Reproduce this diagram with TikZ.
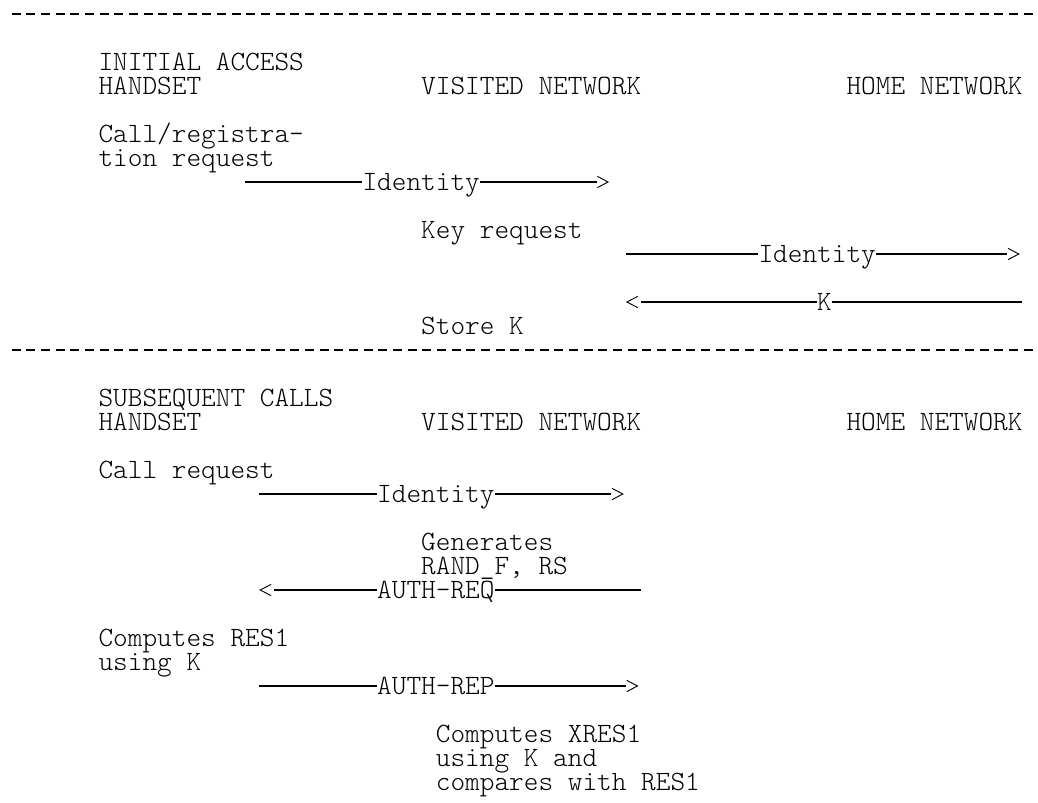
\documentclass[tikz,border=0pt]{standalone}
\usepackage{fontspec}
\setmonofont{lmmonolt10-regular.otf}

\begin{document}
\begin{tikzpicture}[x=11pt,y=-18pt,line width=0.8pt]
                \tikzstyle{txt}=[anchor=base west,inner sep=0pt,font=\ttfamily\fontsize{20.95pt}{18pt}\selectfont]
                \tikzstyle{rule}=[line width=0.9pt,dash pattern=on 6.75pt off 4.25pt]
                \tikzstyle{chev}=[line width=0.7pt]
                \useasboundingbox (-0.682,-0.583) rectangle (70.09,32.875);

                % initial access
                \draw[rule] (0.12,0) -- (70.09,0);
                \node[txt] (title1) at (6,2.34) {INITIAL ACCESS};
                \node[txt] (hs1) at (6,3.34) {HANDSET};
                \node[txt] (vn1) at (28,3.34) {VISITED NETWORK};
                \node[txt] (hn1) at (57,3.34) {HOME NETWORK};
                \node[txt] (reg1) at (6,5.34) {Call/registra-};
                \node[txt] (reg2) at (6,6.34) {tion request};

                \coordinate (s1) at (16,7);
                \node[txt] (id1) at (24,7.34) {Identity};
                \coordinate (t1) at (40,7);
                \draw (s1) -- (id1.west |- s1);
                \draw (id1.east |- s1) -- (t1);
                \draw[chev] (t1) +(0.05,-0.235) -- +(0.78,0) -- +(0.05,0.235);

                \node[txt] (key) at (28,9.34) {Key request};
                \coordinate (s2) at (42,10);
                \node[txt] (id2) at (51,10.34) {Identity};
                \coordinate (t2) at (68,10);
                \draw (s2) -- (id2.west |- s2);
                \draw (id2.east |- s2) -- (t2);
                \draw[chev] (t2) +(0.05,-0.235) -- +(0.78,0) -- +(0.05,0.235);

                \coordinate (s3) at (69,12);
                \node[txt] (k1) at (55,12.34) {K};
                \coordinate (t3) at (43,12);
                \draw (s3) -- (k1.east |- s3);
                \draw (k1.west |- s3) -- (t3);
                \draw[chev] (t3) +(-0.2,-0.235) -- +(-0.94,0) -- +(-0.2,0.235);
                \node[txt] (store) at (28,13.34) {Store K};

                % subsequent calls
                \draw[rule] (0.12,14) -- (70.09,14);
                \node[txt] (title2) at (6,16.34) {SUBSEQUENT CALLS};
                \node[txt] (hs2) at (6,17.34) {HANDSET};
                \node[txt] (vn2) at (28,17.34) {VISITED NETWORK};
                \node[txt] (hn2) at (57,17.34) {HOME NETWORK};
                \node[txt] (call) at (6,19.34) {Call request};

                \coordinate (s4) at (17,20);
                \node[txt] (id3) at (25,20.34) {Identity};
                \coordinate (t4) at (41,20);
                \draw (s4) -- (id3.west |- s4);
                \draw (id3.east |- s4) -- (t4);
                \draw[chev] (t4) +(0.05,-0.235) -- +(0.78,0) -- +(0.05,0.235);

                \node[txt] (gen1) at (28,22.34) {Generates};
                \node[txt] (gen2) at (28,23.34) {RAND\_F, RS};
                \coordinate (s5) at (43,24);
                \node[txt] (req) at (25,24.34) {AUTH-REQ};
                \coordinate (t5) at (18,24);
                \draw (s5) -- (req.east |- s5);
                \draw (req.west |- s5) -- (t5);
                \draw[chev] (t5) +(-0.2,-0.235) -- +(-0.94,0) -- +(-0.2,0.235);

                \node[txt] (res1) at (6,26.34) {Computes RES1};
                \node[txt] (res2) at (6,27.34) {using K};
                \coordinate (s6) at (17,28);
                \node[txt] (rep) at (25,28.34) {AUTH-REP};
                \coordinate (t6) at (42,28);
                \draw (s6) -- (rep.west |- s6);
                \draw (rep.east |- s6) -- (t6);
                \draw[chev] (t6) +(0.05,-0.235) -- +(0.78,0) -- +(0.05,0.235);

                \node[txt] (xres1) at (29,30.34) {Computes XRES1};
                \node[txt] (xres2) at (29,31.34) {using K and};
                \node[txt] (xres3) at (29,32.34) {compares with RES1};
            \end{tikzpicture}
\end{document}
